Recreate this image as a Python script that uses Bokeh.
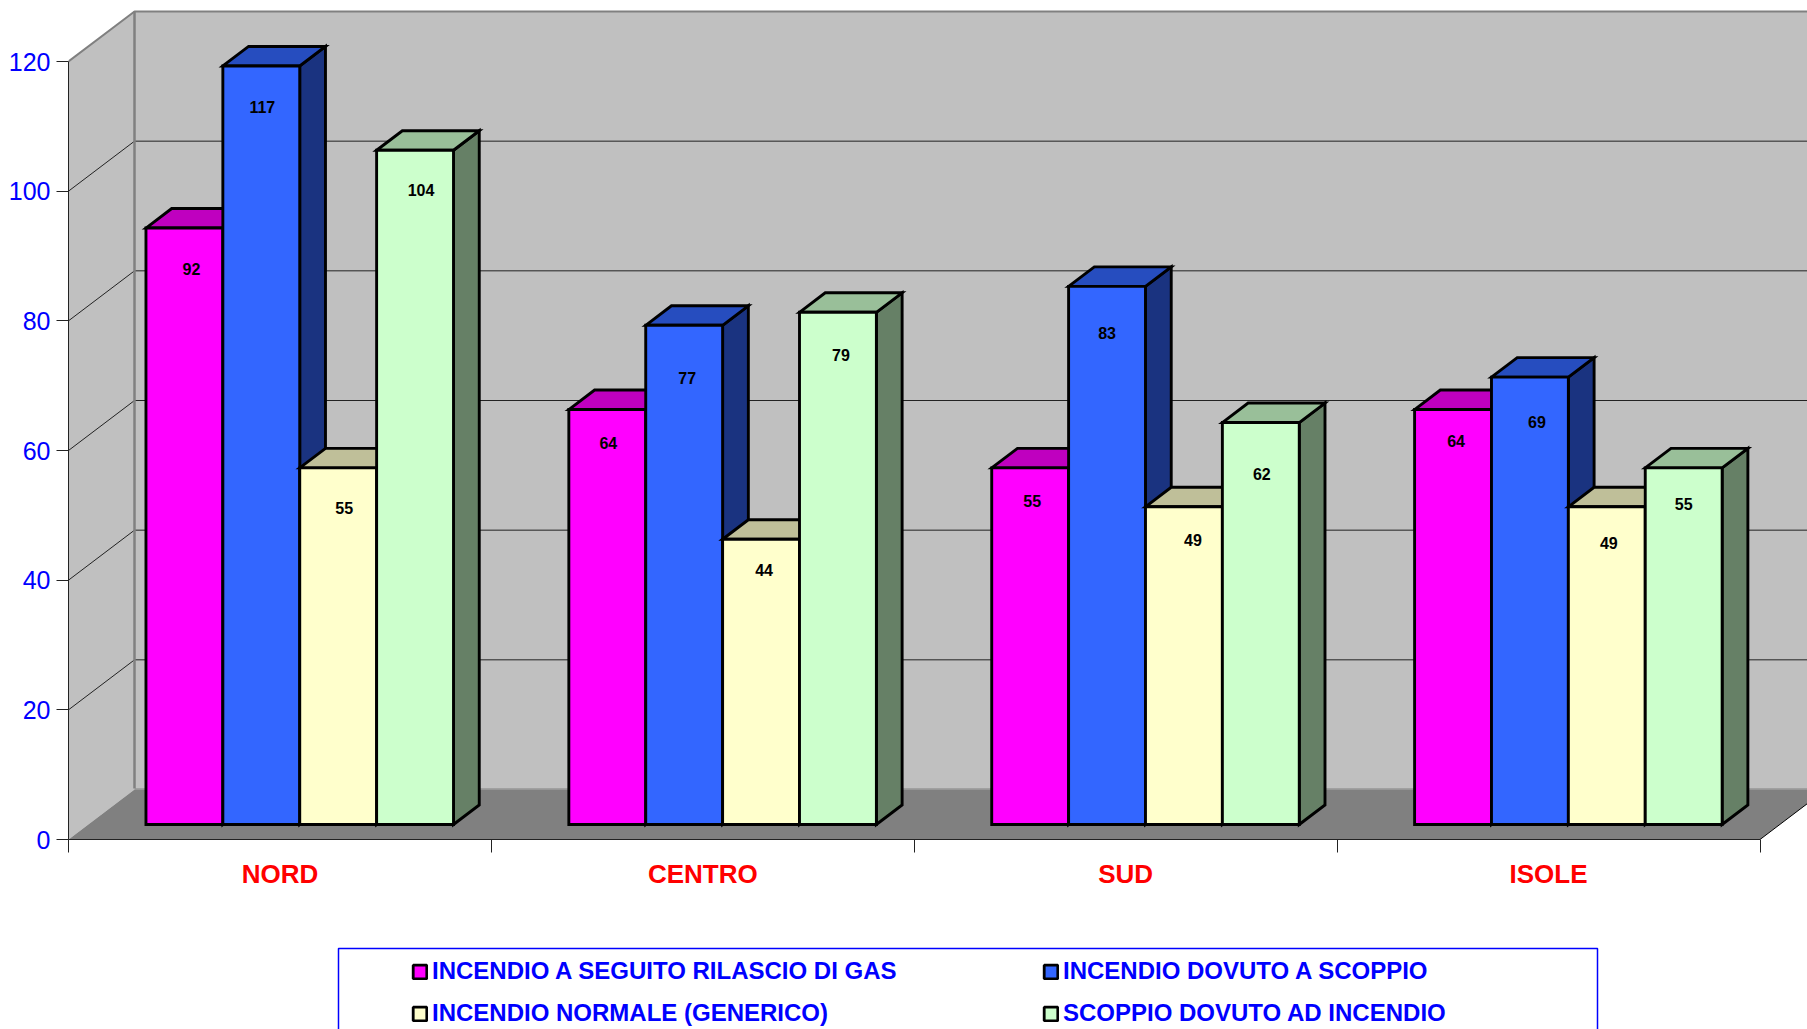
from bokeh.plotting import figure
from bokeh.layouts import column
from bokeh.embed import file_html
from bokeh.resources import INLINE
from bokeh.models import (ColumnDataSource, FixedTicker, Range1d, Legend, LegendItem)
from bokeh.core.properties import value

categories = ["NORD", "CENTRO", "SUD", "ISOLE"]
series_names = ["INCENDIO A SEGUITO RILASCIO DI GAS", "INCENDIO DOVUTO A SCOPPIO",
                "INCENDIO NORMALE (GENERICO)", "SCOPPIO DOVUTO AD INCENDIO"]
gas = [92, 64, 55, 64]
scoppio = [117, 77, 83, 69]
normale = [55, 44, 49, 49]
dovuto = [104, 79, 62, 55]
series_values = [gas, scoppio, normale, dovuto]
y_ticks = [0, 20, 40, 60, 80, 100, 120]

front_colors = ["#FF00FF", "#3366FF", "#FFFFCC", "#CCFFCC"]
top_colors = ["#BF00BF", "#264DBF", "#BFBF99", "#99BF99"]
side_colors = ["#800080", "#1A3380", "#808066", "#668066"]
label_dx = [[7, 1, 6, 6], [1, 3, 3, 3], [2, 0, 9, 1], [3, 7, 2, 0]]
label_dy = [[41, 41, 40, 40], [33, 53, 31, 43], [33, 47, 33, 51], [31, 45, 36, 36]]

W, H_TOP, H_LEG = 1807, 900, 129
LEFT, BOTTOM_PX, TOP120 = 68, 839, 61
CAT_PX = 422.875
VAL_PX = (BOTTOM_PX - TOP120) / 120
frame_w = W - LEFT
DX = 66 / CAT_PX       # depth of the floor, x
DY = 50 / VAL_PX       # depth of the floor, y
FLOOR_DY = 51 / VAL_PX
D0, D1 = 0.30, 0.69    # bar front and back depth
BAR = 1 / 5.5
GAP = 0.75 * BAR
EDGE = 2.9

p = figure(width=W, height=H_TOP, output_backend="svg", toolbar_location=None,
           x_range=Range1d(0, frame_w / CAT_PX),
           y_range=Range1d(0, BOTTOM_PX / VAL_PX),
           min_border_left=LEFT, min_border_right=0, min_border_top=0,
           min_border_bottom=H_TOP - BOTTOM_PX)
p.outline_line_color = None
p.grid.visible = False
p.background_fill_color = "white"

XE = frame_w / CAT_PX + 1
# walls and floor
p.patch([0, DX, DX, 0], [0, DY, 120 + DY, 120], fill_color="#C0C0C0", line_color=None)
p.patch([DX, XE, XE, DX], [DY, DY, 120 + DY, 120 + DY], fill_color="#C0C0C0", line_color=None)
p.patch([0, 4, 4 + DX, DX], [0, 0, DY, DY], fill_color="#808080", line_color=None)
p.quad(left=[DX], right=[XE], bottom=[DY], top=[FLOOR_DY], fill_color="#808080", line_color=None)
for v in y_ticks[1:-1]:
    p.line([0, DX, XE], [v, v + DY, v + DY], line_color="#222222", line_width=1)
p.line([0, DX, XE], [120, 120 + DY, 120 + DY], line_color="#808080", line_width=2)
p.line([DX, DX], [FLOOR_DY, 120 + DY], line_color="#808080", line_width=2.5)
p.line([4, 4 + DX], [0, DY], line_color="black", line_width=1)

lx, ly, ltext, lxo, lyo = [], [], [], [], []
for j, vals in enumerate(series_values):
    left = [i + GAP + j * BAR + D0 * DX for i in range(4)]
    right = [x + BAR for x in left]
    base = [D0 * DY] * 4
    top = [D0 * DY + v for v in vals]
    ex, ey = (D1 - D0) * DX, (D1 - D0) * DY
    side_x = [[r, r + ex, r + ex, r] for r in right]
    side_y = [[b, b + ey, t + ey, t] for b, t in zip(base, top)]
    top_x = [[l, l + ex, r + ex, r] for l, r in zip(left, right)]
    top_y = [[t, t + ey, t + ey, t] for t in top]
    p.patches(side_x, side_y, fill_color=side_colors[j], line_color="black", line_width=EDGE, line_join="miter")
    p.patches(top_x, top_y, fill_color=top_colors[j], line_color="black", line_width=EDGE, line_join="miter")
    p.quad(left=left, right=right, bottom=base, top=top, fill_color=front_colors[j],
           line_color="black", line_width=EDGE, line_join="miter")
    for i in range(4):
        lx.append((left[i] + right[i]) / 2)
        ly.append(top[i])
        ltext.append(str(vals[i]))
        lxo.append(label_dx[i][j])
        lyo.append(label_dy[i][j])

p.text(x="x", y="y", text="t", x_offset="xo", y_offset="yo",
       source=ColumnDataSource(dict(x=lx, y=ly, t=ltext, xo=lxo, yo=lyo)),
       text_font=value("Liberation Sans"), text_font_style="bold", text_font_size="16px",
       text_align="center", text_baseline="middle", text_color="black")

# axes
ya = p.yaxis[0]
ya.ticker = FixedTicker(ticks=y_ticks)
ya.bounds = (0, 120)
ya.axis_line_color = "#222222"
ya.major_tick_line_color = "#222222"
ya.major_tick_in = 0
ya.major_tick_out = 12
ya.minor_tick_line_color = None
ya.major_label_text_color = "#0000FF"
ya.major_label_text_font = "Liberation Sans"
ya.major_label_text_font_size = "25px"
ya.major_label_standoff = 6

xa = p.xaxis[0]
xa.ticker = FixedTicker(ticks=[i + 0.5 for i in range(4)], minor_ticks=list(range(5)))
xa.major_label_overrides = {i + 0.5: c for i, c in enumerate(categories)}
xa.bounds = (0, 4)
xa.axis_line_color = "#222222"
xa.major_tick_line_color = None
xa.minor_tick_line_color = "#222222"
xa.minor_tick_in = 0
xa.minor_tick_out = 13
xa.major_label_text_color = "#FF0000"
xa.major_label_text_font = "Liberation Sans"
xa.major_label_text_font_style = "bold"
xa.major_label_text_font_size = "26px"
xa.major_label_standoff = 6

# legend strip, in page pixels below the chart (column aligns its frame with the chart's)
q = figure(width=W, height=H_LEG, output_backend="svg", toolbar_location=None,
           x_range=Range1d(LEFT, W), y_range=Range1d(H_TOP + H_LEG, H_TOP),
           x_axis_location=None, y_axis_location=None,
           min_border_left=LEFT, min_border_right=0, min_border_top=0, min_border_bottom=0)
q.outline_line_color = None
q.grid.visible = False
q.quad(left=[338], right=[1597], top=[948], bottom=[1100], fill_color="white",
       line_color="#0000FF", line_width=1.5)
swatches = {}
for j, name in enumerate(series_names):
    swatches[j] = q.quad(left=[0], right=[1], top=[0], bottom=[1], fill_color=front_colors[j],
                         line_color="black", line_width=2.8)
items = [LegendItem(label=series_names[j], renderers=[swatches[j]]) for j in (0, 2, 1, 3)]
legend = Legend(items=items, ncols=2, location=(343, -5), margin=0, padding=0, spacing=0,
                background_fill_alpha=0, border_line_color=None,
                glyph_width=17, glyph_height=17, label_standoff=4, label_height=42, label_width=610,
                label_text_font="Liberation Sans", label_text_font_style="bold",
                label_text_font_size="24px", label_text_color="#0000FF")
q.add_layout(legend, "center")

layout = column(p, q, spacing=0)
open("out.html", "w").write(file_html(layout, INLINE))
